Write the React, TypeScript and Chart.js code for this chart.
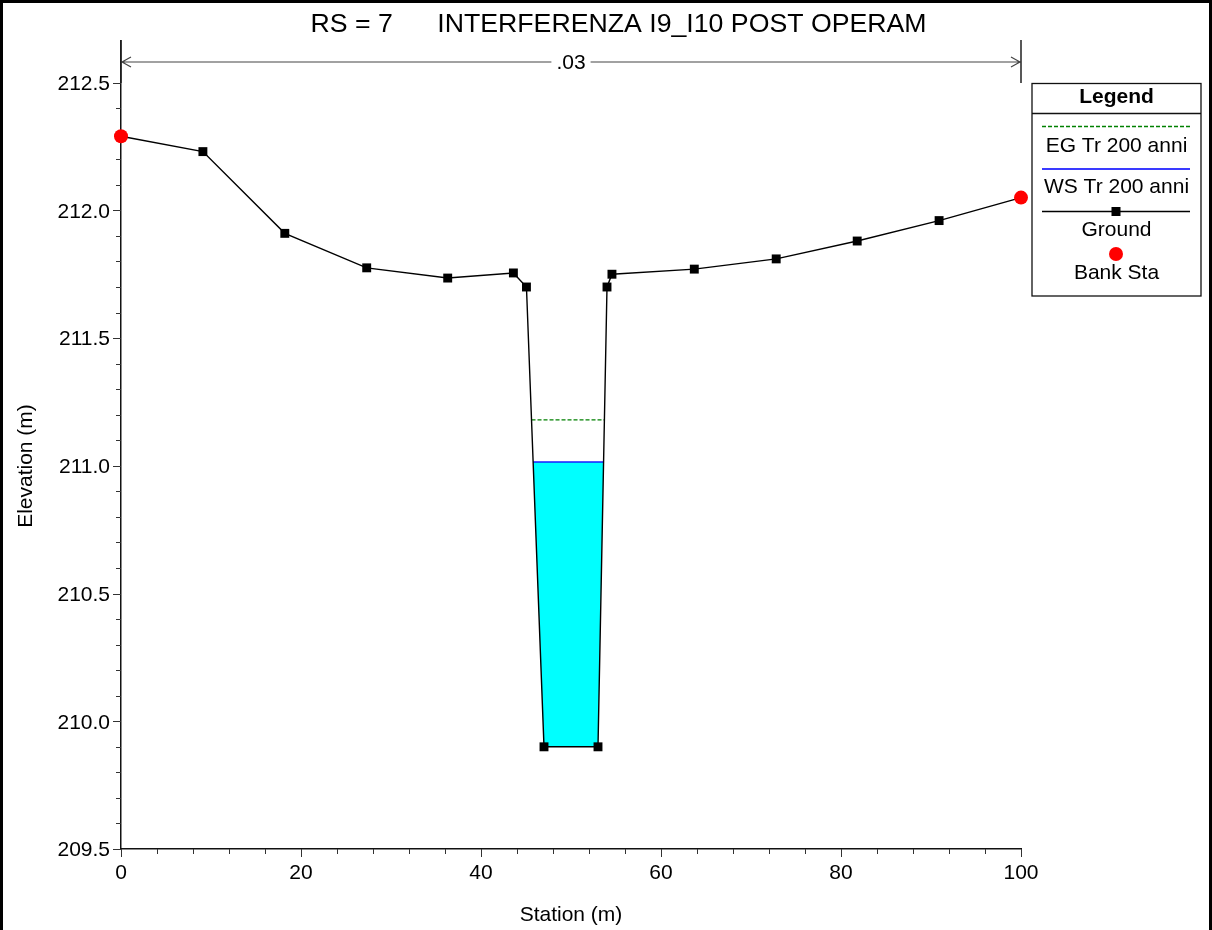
import React, { useEffect, useRef } from 'react';
import { Chart, registerables } from 'chart.js';

Chart.register(...registerables);

const TITLE = 'RS = 7      INTERFERENZA I9_I10 POST OPERAM';
const X_TITLE = 'Station (m)';
const Y_TITLE = 'Elevation (m)';
const N_VALUE_LABEL = '.03';

const GROUND_STATION = [0, 9.1, 18.2, 27.3, 36.3, 43.6, 45.05, 47.0, 53.0, 54.0, 54.55, 63.7, 72.8, 81.8, 90.9, 100];
const GROUND_ELEV = [212.29, 212.23, 211.91, 211.775, 211.735, 211.755, 211.7, 209.9, 209.9, 211.7, 211.75, 211.77, 211.81, 211.88, 211.96, 212.05];
const BANK_STATION = [0, 100];
const BANK_ELEV = [212.29, 212.05];
const WS_ELEV = 211.015;
const EG_ELEV = 211.18;

const X_TICKS = [0, 20, 40, 60, 80, 100];
const X_MINOR_TICKS = [0, 4, 8, 12, 16, 20, 24, 28, 32, 36, 40, 44, 48, 52, 56, 60, 64, 68, 72, 76, 80, 84, 88, 92, 96, 100];
const Y_TICKS = [209.5, 210.0, 210.5, 211.0, 211.5, 212.0, 212.5];
const Y_MINOR_TICKS = [209.5, 209.6, 209.7, 209.8, 209.9, 210.0, 210.1, 210.2, 210.3, 210.4, 210.5, 210.6, 210.7, 210.8, 210.9, 211.0, 211.1, 211.2, 211.3, 211.4, 211.5, 211.6, 211.7, 211.8, 211.9, 212.0, 212.1, 212.2, 212.3, 212.4, 212.5];
const X_MIN = 0;
const X_MAX = 100;
const Y_MIN = 209.5;
const Y_MAX = 212.663;

const LEGEND_TITLE = 'Legend';
const LEGEND_LABELS = ['EG Tr 200 anni', 'WS Tr 200 anni', 'Ground', 'Bank Sta'];

const FONT = '"Liberation Sans", Arial, Helvetica, sans-serif';

// Intersection of a water level with the channel ground profile
function waterSection(level: number) {
  const n = GROUND_ELEV.length;
  let minI = 0;
  for (let i = 1; i < n; i++) if (GROUND_ELEV[i] < GROUND_ELEV[minI]) minI = i;
  const interp = (a: number, b: number) => {
    const t = (level - GROUND_ELEV[a]) / (GROUND_ELEV[b] - GROUND_ELEV[a]);
    return GROUND_STATION[a] + t * (GROUND_STATION[b] - GROUND_STATION[a]);
  };
  let l = minI;
  while (l > 0 && GROUND_ELEV[l - 1] < level) l--;
  let r = minI;
  while (r < n - 1 && GROUND_ELEV[r + 1] < level) r++;
  const xl = interp(l - 1, l);
  const xr = interp(r, r + 1);
  const pts: { x: number; y: number }[] = [{ x: xl, y: level }];
  for (let i = l; i <= r; i++) pts.push({ x: GROUND_STATION[i], y: GROUND_ELEV[i] });
  pts.push({ x: xr, y: level });
  return { xl, xr, pts };
}

const decorPlugin = {
  id: 'decor',
  beforeDatasetsDraw(chart: any) {
    const ctx: CanvasRenderingContext2D = chart.ctx;
    const xs = chart.scales.x;
    const ys = chart.scales.y;
    const { left, bottom } = chart.chartArea;
    ctx.save();
    // tick marks
    ctx.strokeStyle = '#333';
    ctx.lineWidth = 1;
    ctx.beginPath();
    X_MINOR_TICKS.forEach((v) => {
      const px = Math.round(xs.getPixelForValue(v)) + 0.5;
      const len = X_TICKS.includes(v) ? 8 : 5;
      ctx.moveTo(px, bottom);
      ctx.lineTo(px, bottom + len);
    });
    Y_MINOR_TICKS.forEach((v) => {
      const py = Math.round(ys.getPixelForValue(v)) + 0.5;
      const major = Y_TICKS.some((t) => Math.abs(t - v) < 1e-6);
      ctx.moveTo(left, py);
      ctx.lineTo(left - (major ? 8 : 5), py);
    });
    ctx.stroke();
    ctx.restore();
  },
  afterDraw(chart: any) {
    const ctx: CanvasRenderingContext2D = chart.ctx;
    const xs = chart.scales.x;
    ctx.save();

    // main title
    ctx.fillStyle = '#000';
    ctx.font = `26.7px ${FONT}`;
    ctx.textAlign = 'center';
    ctx.textBaseline = 'alphabetic';
    ctx.fillText(TITLE, 618.5, 32);

    // axis titles
    ctx.font = `21px ${FONT}`;
    ctx.fillText(X_TITLE, (xs.getPixelForValue(X_MIN) + xs.getPixelForValue(X_MAX)) / 2, 921);
    ctx.save();
    ctx.translate(32, 466);
    ctx.rotate(-Math.PI / 2);
    ctx.fillText(Y_TITLE, 0, 0);
    ctx.restore();

    // Manning's n annotation
    const ax0 = xs.getPixelForValue(X_MIN);
    const ax1 = xs.getPixelForValue(X_MAX);
    const ay = 62;
    ctx.font = `21px ${FONT}`;
    const tw = ctx.measureText(N_VALUE_LABEL).width;
    const cx = (ax0 + ax1) / 2;
    ctx.strokeStyle = '#444';
    ctx.lineWidth = 1.2;
    ctx.beginPath();
    ctx.moveTo(ax0, ay);
    ctx.lineTo(cx - tw / 2 - 5, ay);
    ctx.moveTo(cx + tw / 2 + 5, ay);
    ctx.lineTo(ax1, ay);
    // arrow heads
    ctx.moveTo(ax0 + 10, ay - 5);
    ctx.lineTo(ax0 + 1, ay);
    ctx.lineTo(ax0 + 10, ay + 5);
    ctx.moveTo(ax1 - 10, ay - 5);
    ctx.lineTo(ax1 - 1, ay);
    ctx.lineTo(ax1 - 10, ay + 5);
    ctx.stroke();
    ctx.strokeStyle = '#222';
    ctx.lineWidth = 1.5;
    ctx.beginPath();
    ctx.moveTo(ax1, 40);
    ctx.lineTo(ax1, 83);
    ctx.moveTo(ax0, 40);
    ctx.lineTo(ax0, 83);
    ctx.stroke();
    ctx.fillStyle = '#000';
    ctx.textBaseline = 'middle';
    ctx.fillText(N_VALUE_LABEL, cx, ay + 1);

    // legend box
    const lx0 = 1032, lx1 = 1201, ly0 = 83.5, ly1 = 296;
    const lcx = (lx0 + lx1) / 2;
    ctx.fillStyle = '#fff';
    ctx.fillRect(lx0, ly0, lx1 - lx0, ly1 - ly0);
    ctx.strokeStyle = '#111';
    ctx.lineWidth = 1.3;
    ctx.strokeRect(lx0, ly0, lx1 - lx0, ly1 - ly0);
    ctx.beginPath();
    ctx.moveTo(lx0, 113.5);
    ctx.lineTo(lx1, 113.5);
    ctx.stroke();
    ctx.fillStyle = '#000';
    ctx.font = `bold 21px ${FONT}`;
    ctx.textAlign = 'center';
    ctx.textBaseline = 'middle';
    ctx.fillText(LEGEND_TITLE, lcx, 97);

    const sx0 = 1042, sx1 = 1190;
    // EG
    ctx.strokeStyle = '#008000';
    ctx.lineWidth = 1.3;
    ctx.setLineDash([4, 2]);
    ctx.beginPath();
    ctx.moveTo(sx0, 126.5);
    ctx.lineTo(sx1, 126.5);
    ctx.stroke();
    ctx.setLineDash([]);
    // WS
    ctx.strokeStyle = '#3a3aff';
    ctx.lineWidth = 2;
    ctx.beginPath();
    ctx.moveTo(sx0, 169);
    ctx.lineTo(sx1, 169);
    ctx.stroke();
    // Ground
    ctx.strokeStyle = '#000';
    ctx.lineWidth = 1.5;
    ctx.beginPath();
    ctx.moveTo(sx0, 211.5);
    ctx.lineTo(sx1, 211.5);
    ctx.stroke();
    ctx.fillStyle = '#000';
    ctx.fillRect(1116 - 4.5, 211.5 - 4.5, 9, 9);
    // Bank
    ctx.fillStyle = '#ff0000';
    ctx.beginPath();
    ctx.arc(1116, 254, 7, 0, Math.PI * 2);
    ctx.fill();

    ctx.fillStyle = '#000';
    ctx.font = `21px ${FONT}`;
    ctx.fillText(LEGEND_LABELS[0], lcx, 146);
    ctx.fillText(LEGEND_LABELS[1], lcx, 187);
    ctx.fillText(LEGEND_LABELS[2], lcx, 230.5);
    ctx.fillText(LEGEND_LABELS[3], lcx, 273);

    // outer frame
    ctx.fillStyle = '#000';
    ctx.fillRect(0, 0, 1212, 3);
    ctx.fillRect(0, 0, 3, 930);
    ctx.fillRect(1209, 0, 3, 930);

    ctx.restore();
  },
};

export default function App() {
  const ref = useRef<HTMLCanvasElement | null>(null);

  useEffect(() => {
    document.body.style.margin = '0';
    const canvas = ref.current;
    if (!canvas) return;

    const ws = waterSection(WS_ELEV);
    const eg = waterSection(EG_ELEV);
    const ground = GROUND_STATION.map((x, i) => ({ x, y: GROUND_ELEV[i] }));
    const bank = BANK_STATION.map((x, i) => ({ x, y: BANK_ELEV[i] }));

    const chart = new Chart(canvas, {
      type: 'scatter',
      data: {
        datasets: [
          {
            label: LEGEND_LABELS[3],
            data: bank,
            showLine: false,
            pointStyle: 'circle',
            pointRadius: 7,
            pointBackgroundColor: '#ff0000',
            pointBorderWidth: 0,
            clip: false,
          },
          {
            label: LEGEND_LABELS[2],
            data: ground,
            showLine: true,
            borderColor: '#000',
            borderWidth: 1.4,
            pointStyle: 'rect',
            pointRadius: 6.3,
            pointBackgroundColor: '#000',
            pointBorderWidth: 0,
            clip: false,
          },
          {
            label: LEGEND_LABELS[1],
            data: [
              { x: ws.xl, y: WS_ELEV },
              { x: ws.xr, y: WS_ELEV },
            ],
            showLine: true,
            borderColor: '#1a1aff',
            borderWidth: 1.6,
            pointRadius: 0,
          },
          {
            label: LEGEND_LABELS[0],
            data: [
              { x: eg.xl, y: EG_ELEV },
              { x: eg.xr, y: EG_ELEV },
            ],
            showLine: true,
            borderColor: '#008000',
            borderWidth: 1.3,
            borderDash: [4, 2],
            pointRadius: 0,
          },
          {
            label: 'water',
            data: ws.pts,
            showLine: true,
            borderWidth: 0,
            borderColor: 'rgba(0,0,0,0)',
            backgroundColor: '#00ffff',
            fill: { value: WS_ELEV },
            pointRadius: 0,
          },
        ],
      } as any,
      options: {
        responsive: false,
        animation: false,
        devicePixelRatio: 1,
        events: [],
        layout: { padding: { left: 0, right: 191, top: 41, bottom: 0 }, autoPadding: false } as any,
        plugins: {
          legend: { display: false },
          tooltip: { enabled: false },
          title: { display: false },
        },
        scales: {
          x: {
            type: 'linear',
            min: X_MIN,
            max: X_MAX,
            afterBuildTicks: (s: any) => {
              s.ticks = X_TICKS.map((v) => ({ value: v }));
            },
            afterFit: (s: any) => {
              s.height = 81;
              s.paddingLeft = 0;
              s.paddingRight = 0;
            },
            ticks: {
              autoSkip: false,
              maxRotation: 0,
              color: '#000',
              padding: 4,
              font: { family: FONT, size: 21 },
              callback: (v: any) => String(v),
            },
            grid: { display: false, drawTicks: true, tickLength: 8 },
            border: { display: true, color: '#111', width: 1.5 },
          },
          y: {
            type: 'linear',
            min: Y_MIN,
            max: Y_MAX,
            afterBuildTicks: (s: any) => {
              s.ticks = Y_TICKS.map((v) => ({ value: v }));
            },
            afterFit: (s: any) => {
              s.width = 121;
              s.paddingTop = 0;
              s.paddingBottom = 0;
            },
            ticks: {
              autoSkip: false,
              color: '#000',
              padding: 3,
              labelOffset: 1.5,
              font: { family: FONT, size: 21 },
              callback: (v: any) => Number(v).toFixed(1),
            },
            grid: { display: false, drawTicks: true, tickLength: 8 },
            border: { display: true, color: '#111', width: 1.5 },
          },
        },
      } as any,
      plugins: [decorPlugin],
    });

    return () => chart.destroy();
  }, []);

  return (
    <div style={{ position: 'absolute', left: 0, top: 0, width: 1212, height: 930, background: '#fff' }}>
      <canvas ref={ref} width={1212} height={930} style={{ display: 'block' }} />
    </div>
  );
}
